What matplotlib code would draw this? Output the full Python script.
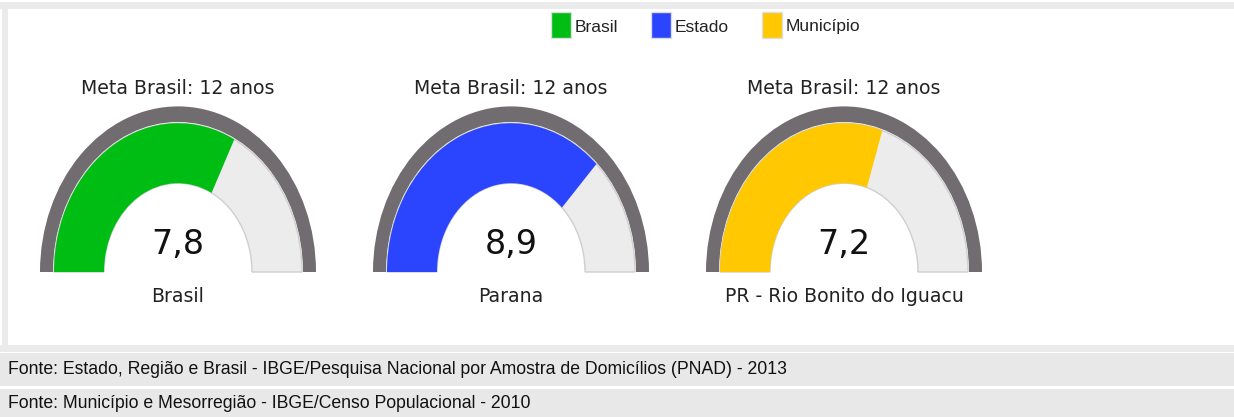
import matplotlib
matplotlib.use("Agg")
import matplotlib.pyplot as plt
from matplotlib.patches import Wedge, Rectangle

# data
series = ["Brasil", "Estado", "Município"]
labels = ["Brasil", "Parana", "PR - Rio Bonito do Iguacu"]
values = [7.8, 8.9, 7.2]
meta = 12
colors = ["#00bd14", "#2b45ff", "#ffc800"]
fontes = [
    "Fonte: Estado, Região e Brasil - IBGE/Pesquisa Nacional por Amostra de Domicílios (PNAD) - 2013",
    "Fonte: Município e Mesorregião - IBGE/Censo Populacional - 2010",
]

W, H = 1234, 417
S = 1.2  # vertical stretch of the gauges

fig = plt.figure(figsize=(W / 100, H / 100), dpi=100)
ax = fig.add_axes([0, 0, 1, 1])
ax.set_xlim(0, W)
ax.set_ylim(H / S, 0)
ax.axis("off")


def y(px):
    return px / S


# frame / background strips
bg = "#ebebeb"
ax.add_patch(Rectangle((0, y(2)), W, y(7), color=bg, lw=0))
ax.add_patch(Rectangle((2, y(2)), 6, y(343), color=bg, lw=0))
ax.add_patch(Rectangle((0, y(345)), W, y(7), color=bg, lw=0))
ax.add_patch(Rectangle((0, y(353)), W, y(33), color="#e8e8e8", lw=0))
ax.add_patch(Rectangle((0, y(389)), W, y(28), color="#e8e8e8", lw=0))

# legend
leg_x = [551, 651, 762]
for lx, name, c in zip(leg_x, series, colors):
    ax.add_patch(Rectangle((lx, y(12)), 20, y(26), facecolor=c, edgecolor="#dddddd", lw=1))
    ax.text(lx + 24, y(27), name, fontsize=12.5, family=["Liberation Sans", "DejaVu Sans"],
            va="center", ha="left", color="#222222")

# gauges
centers = [178, 511, 844]
base = 272
r_out, r_band, r_in = 138, 125, 74
gray = "#716c6f"
for cx, v, lab, c in zip(centers, values, labels, colors):
    ax.add_patch(Wedge((cx, y(base)), r_out, 180, 360, width=r_out - r_band,
                       facecolor=gray, lw=0))
    ax.add_patch(Wedge((cx, y(base)), r_band - 1, 180, 360, width=r_band - 1 - r_in,
                       facecolor="#ececec", edgecolor="#cfcfcf", lw=1))
    ax.add_patch(Wedge((cx, y(base)), r_band - 1, 180, 180 + 180 * v / meta,
                       width=r_band - 1 - r_in, facecolor=c, lw=0))
    ax.text(cx, y(88), "Meta Brasil: %d anos" % meta, fontsize=13.6, ha="center",
            va="center", color="#222222")
    ax.text(cx, y(244), ("%.1f" % v).replace(".", ","), fontsize=24, ha="center",
            va="center", color="#111111")
    ax.text(cx, y(297), lab, fontsize=13.6, ha="center", va="center", color="#222222")

# sources
for fy, txt in zip([369, 404], fontes):
    ax.text(8, y(fy), txt, fontsize=12.7, family=["Liberation Sans", "DejaVu Sans"],
            ha="left", va="center", color="#111111")

fig.savefig("out.png", dpi=100, facecolor="white")
